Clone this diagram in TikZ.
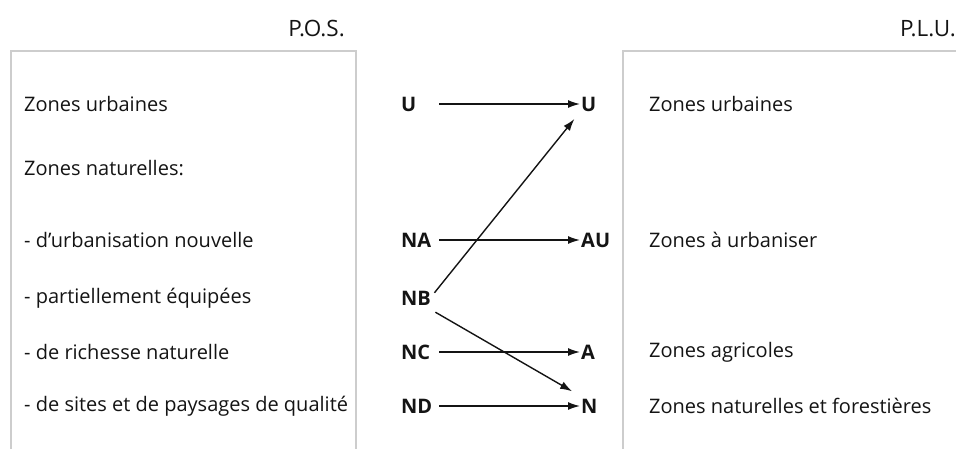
\documentclass[tikz,border=0pt]{standalone}
\usepackage{fontspec}
\setmainfont{Open Sans}
\usetikzlibrary{arrows.meta,positioning}
\definecolor{FrameGray}{RGB}{205,205,205}
\definecolor{InkGray}{RGB}{20,20,20}
\tikzset{
  frame/.style={draw=FrameGray,line width=1.2pt},
  title/.style={anchor=base east,inner sep=0pt,font=\fontsize{22.5}{25}\selectfont,text=InkGray},
  zone/.style={anchor=west,inner sep=0pt,font=\fontsize{20}{22}\selectfont,text=InkGray},
  codeleft/.style={anchor=west,inner sep=0pt,text width=38pt,align=left,
    minimum height=22pt,font=\bfseries\fontsize{20}{22}\selectfont,text=InkGray},
  coderight/.style={anchor=west,inner sep=0pt,minimum height=22pt,
    font=\bfseries\fontsize{20}{22}\selectfont,text=InkGray},
  arrow/.style={-{Latex[length=12pt,width=8pt]},line width=1.4pt,InkGray,shorten >=1pt}
}
\begin{document}
\begin{tikzpicture}[x=1pt,y=-1pt]
  \useasboundingbox (0,0) rectangle (956,448);
  % the two frames, open at the bottom
  \draw[frame] (11,460) |- (356,51) -- (356,460);
  \draw[frame] (623,460) |- (970,51);
  \node[title] (pos) at (345,36) {P.O.S.};
  \node[title] (plu) at (956,36) {P.L.U.};
  % left column
  \node[zone] (zu)  at (24,104) {Zones urbaines};
  \node[zone] (zn)  at (24,168) {Zones naturelles:};
  \node[zone] (zna) at (24,240) {- d'urbanisation nouvelle};
  \node[zone] (znb) at (24,298) {- partiellement équipées};
  \node[zone] (znc) at (24,352) {- de richesse naturelle};
  \node[zone] (znd) at (24,406) {- de sites et de paysages de qualité};
  % old codes
  \node[codeleft] (U)  at (401,104) {U};
  \node[codeleft] (NA) at (401,240) {NA};
  \node[codeleft] (NB) at (401,298) {NB};
  \node[codeleft] (NC) at (401,352) {NC};
  \node[codeleft] (ND) at (401,406) {ND};
  % new codes
  \node[coderight] (newU)  at (581,104) {U};
  \node[coderight] (newAU) at (581,240) {AU};
  \node[coderight] (newA)  at (581,352) {A};
  \node[coderight] (newN)  at (581,406) {N};
  % right column
  \node[zone] (ru)  at (649,104) {Zones urbaines};
  \node[zone] (rau) at (649,240) {Zones à urbaniser};
  \node[zone] (ra)  at (649,352) {Zones agricoles};
  \node[zone] (rn)  at (649,406) {Zones naturelles et forestières};
  % correspondences
  \draw[arrow] (U) -- (newU);
  \draw[arrow] (NA) -- (newAU);
  \draw[arrow] (NC) -- (newA);
  \draw[arrow] (ND) -- (newN);
  \draw[arrow] ([xshift=-5pt,yshift=-6pt]NB.north east) -- ([xshift=-6pt,yshift=-3pt]newU.south west);
  \draw[arrow] ([xshift=-4pt,yshift=-3pt]NB.south east) -- ([xshift=-8pt,yshift=3pt]newN.north west);
\end{tikzpicture}
\end{document}
